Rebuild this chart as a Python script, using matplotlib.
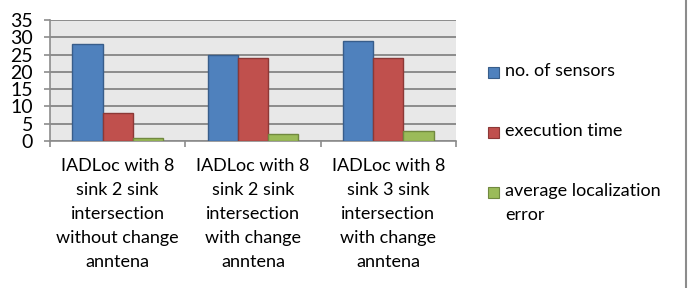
import matplotlib
matplotlib.use("Agg")
import matplotlib.pyplot as plt
from matplotlib.patches import Rectangle
from matplotlib.lines import Line2D
import numpy as np

categories = [
    "IADLoc with 8\nsink 2 sink\nintersection\nwithout change\nanntena",
    "IADLoc with 8\nsink 2 sink\nintersection\nwith change\nanntena",
    "IADLoc with 8\nsink 3 sink\nintersection\nwith change\nanntena",
]
series_names = ["no. of sensors", "execution time", "average localization\nerror"]
no_of_sensors = [28, 25, 29]
execution_time = [8, 24, 24]
avg_loc_error = [1, 2, 3]
yticks = [0, 5, 10, 15, 20, 25, 30, 35]

colors = ["#4F81BD", "#C0504D", "#9BBB59"]
edges = ["#385D8A", "#8C3836", "#71893F"]

plt.rcParams['font.family'] = ['Lato', 'DejaVu Sans']
FS = 13
LS = 1.63

W, H = 694, 288
fig = plt.figure(figsize=(W / 100, H / 100), dpi=100)
ax = fig.add_axes([50 / W, 1 - 141 / H, (456 - 50) / W, (141 - 20) / H])
ax.set_facecolor("#E8E8E8")

x = np.arange(len(categories))
bw = 0.224
for i, vals in enumerate([no_of_sensors, execution_time, avg_loc_error]):
    ax.bar(x + (i - 1) * bw, vals, width=bw, color=colors[i], edgecolor=edges[i],
           linewidth=1.0, zorder=3)

ax.set_xlim(-0.5, len(categories) - 0.5)
ax.set_ylim(0, 35)
ax.set_yticks(yticks)
ax.set_yticklabels([str(v) for v in yticks], fontsize=14)
ax.yaxis.grid(True, color="#8C8C8C", linewidth=1.4, zorder=0)
ax.set_axisbelow(True)
ax.tick_params(axis="y", length=4.3, width=1.2, color="#8C8C8C", pad=8)

ax.set_xticks(x)
ax.set_xticklabels(categories, fontsize=FS, linespacing=LS)
ax.tick_params(axis="x", which="major", length=0, pad=12)
ax.set_xticks(np.arange(-0.5, len(categories), 1.0), minor=True)
ax.tick_params(axis="x", which="minor", length=4.3, width=1.2, color="#8C8C8C", direction="out")

for s in ["top", "right"]:
    ax.spines[s].set_visible(False)
for s in ["left", "bottom"]:
    ax.spines[s].set_color("#8C8C8C")
    ax.spines[s].set_linewidth(1.2)

# legend drawn manually
leg_y = [72, 132, 192]
for i, name in enumerate(series_names):
    cy = leg_y[i]
    fig.add_artist(Rectangle((488 / W, 1 - (cy + 5.5) / H), 11 / W, 11 / H,
                             transform=fig.transFigure, facecolor=colors[i],
                             edgecolor=edges[i], linewidth=0.8))
    fig.text(505 / W, 1 - (cy - 9) / H, name, fontsize=FS, va="top", ha="left",
             linespacing=LS)

fig.add_artist(Line2D([686 / W, 686 / W], [0, 1], transform=fig.transFigure,
                      color="#8C8C8C", linewidth=1.5))

fig.savefig("out.png", dpi=100)
